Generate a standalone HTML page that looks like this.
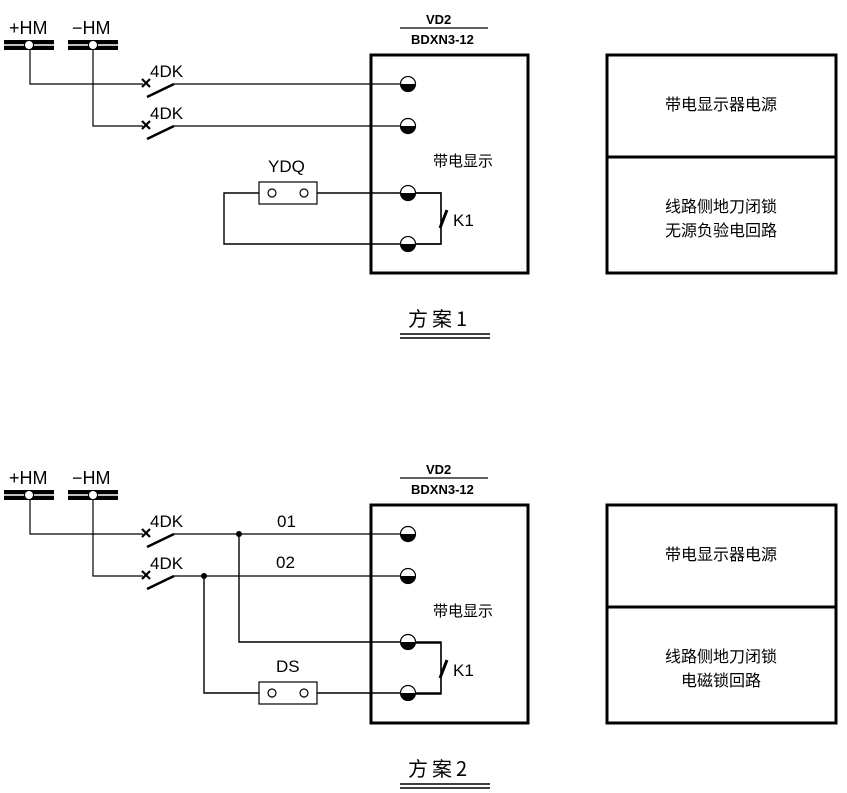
<!DOCTYPE html>
<html><head><meta charset="utf-8"><style>
html,body{margin:0;padding:0;background:#fff;}
svg{display:block}
text{font-family:"Liberation Sans","Noto Sans CJK SC",sans-serif;fill:#000}
.c{font-family:"Noto Sans CJK SC","WenQuanYi Zen Hei",sans-serif}
</style></head><body>
<svg width="847" height="793" viewBox="0 0 847 793" xmlns="http://www.w3.org/2000/svg">
<defs>
<g id="bus">
 <rect x="0" y="0" width="50" height="10" fill="#000"/>
 <line x1="0" y1="5" x2="50" y2="5" stroke="#fff" stroke-width="1.5"/>
 <circle cx="25" cy="5" r="4.5" fill="#fff" stroke="#000" stroke-width="1"/>
</g>
<g id="term">
 <circle r="7.5" fill="#fff" stroke="#000" stroke-width="1.2"/>
 <path d="M-7.5,0 A7.5,7.5 0 0 0 7.5,0 Z" fill="#000"/>
</g>
<g id="sw">
 <path d="M142,79 l8,8 M150,79 l-8,8" stroke="#000" stroke-width="2.2"/>
 <line x1="147" y1="97" x2="174" y2="84" stroke="#000" stroke-width="2.5"/>
</g>
<g id="common">
 <text x="9" y="34" font-size="18">+HM</text>
 <text x="72" y="34" font-size="18">−HM</text>
 <use href="#bus" x="4" y="40"/>
 <use href="#bus" x="68" y="40"/>
 <path d="M30,50 V84 H143 M93,50 V126 H143 M174,84 H408 M174,126 H408" stroke="#000" stroke-width="1.2" fill="none"/>
 <use href="#sw"/>
 <use href="#sw" y="42"/>
 <text x="150" y="77" font-size="17">4DK</text>
 <text x="150" y="119" font-size="17">4DK</text>
 <text x="426" y="24" font-size="13" font-weight="bold" font-family="Liberation Serif,serif">VD2</text>
 <line x1="400" y1="28" x2="488" y2="28" stroke="#000" stroke-width="1.2"/>
 <text x="411" y="44" font-size="13" font-weight="bold" font-family="Liberation Serif,serif">BDXN3-12</text>
 <rect x="371" y="55" width="157" height="218" stroke="#000" fill="none" stroke-width="3"/>
 <text x="433" y="166" font-size="15" class="c">带电显示</text>
 <path d="M408,193 H441 V244 H408" stroke="#000" stroke-width="1.4" fill="none"/>
 <line x1="440" y1="228" x2="447" y2="210" stroke="#000" stroke-width="3"/>
 <text x="453" y="226" font-size="17">K1</text>
 <use href="#term" x="408" y="84"/>
 <use href="#term" x="408" y="126"/>
 <rect x="607" y="55" width="229" height="218" stroke="#000" fill="none" stroke-width="3"/>
 <line x1="607" y1="157" x2="836" y2="157" stroke="#000" stroke-width="3"/>
 <text x="721" y="110" font-size="16" class="c" text-anchor="middle">带电显示器电源</text>
 <text x="721" y="212" font-size="16" class="c" text-anchor="middle">线路侧地刀闭锁</text>
</g>
</defs>

<use href="#common"/>
<path d="M259,193 H224 V244 H408 M317,193 H441 V244 H408" stroke="#000" fill="none" stroke-width="1.4"/>
<rect x="259" y="182" width="58" height="22" stroke="#000" fill="none" stroke-width="1.2"/>
<circle cx="272" cy="193" r="4" stroke="#000" fill="none" stroke-width="1.2"/><circle cx="304" cy="193" r="4" stroke="#000" fill="none" stroke-width="1.2"/>
<use href="#term" x="408" y="193"/><use href="#term" x="408" y="244"/>
<text x="268" y="172" font-size="17">YDQ</text>
<text x="721" y="236" font-size="16" class="c" text-anchor="middle">无源负验电回路</text>
<text x="408" y="326" font-size="20" class="c" letter-spacing="4">方案1</text>
<line x1="400" y1="334" x2="490" y2="334" stroke="#000" stroke-width="1.5"/>
<line x1="400" y1="338" x2="490" y2="338" stroke="#000" stroke-width="1.5"/>

<g transform="translate(0,450)">
<use href="#common"/>
<path d="M239,84 V192 H441 V243 H408 M204,126 V243 H259 M317,243 H408" stroke="#000" fill="none" stroke-width="1.4"/>
<rect x="259" y="232" width="58" height="22" stroke="#000" fill="none" stroke-width="1.2"/>
<circle cx="272" cy="243" r="4" stroke="#000" fill="none" stroke-width="1.2"/><circle cx="304" cy="243" r="4" stroke="#000" fill="none" stroke-width="1.2"/>
<circle cx="239" cy="84" r="3" fill="#000"/>
<circle cx="204" cy="126" r="3" fill="#000"/>
<use href="#term" x="408" y="192"/><use href="#term" x="408" y="243"/>
<text x="277" y="77" font-size="17">01</text>
<text x="276" y="118" font-size="17">02</text>
<text x="276" y="222" font-size="17">DS</text>
<text x="721" y="236" font-size="16" class="c" text-anchor="middle">电磁锁回路</text>
<text x="408" y="326" font-size="20" class="c" letter-spacing="4">方案2</text>
<line x1="400" y1="334" x2="490" y2="334" stroke="#000" stroke-width="1.5"/>
<line x1="400" y1="338" x2="490" y2="338" stroke="#000" stroke-width="1.5"/>
</g>
</svg>
</body></html>
